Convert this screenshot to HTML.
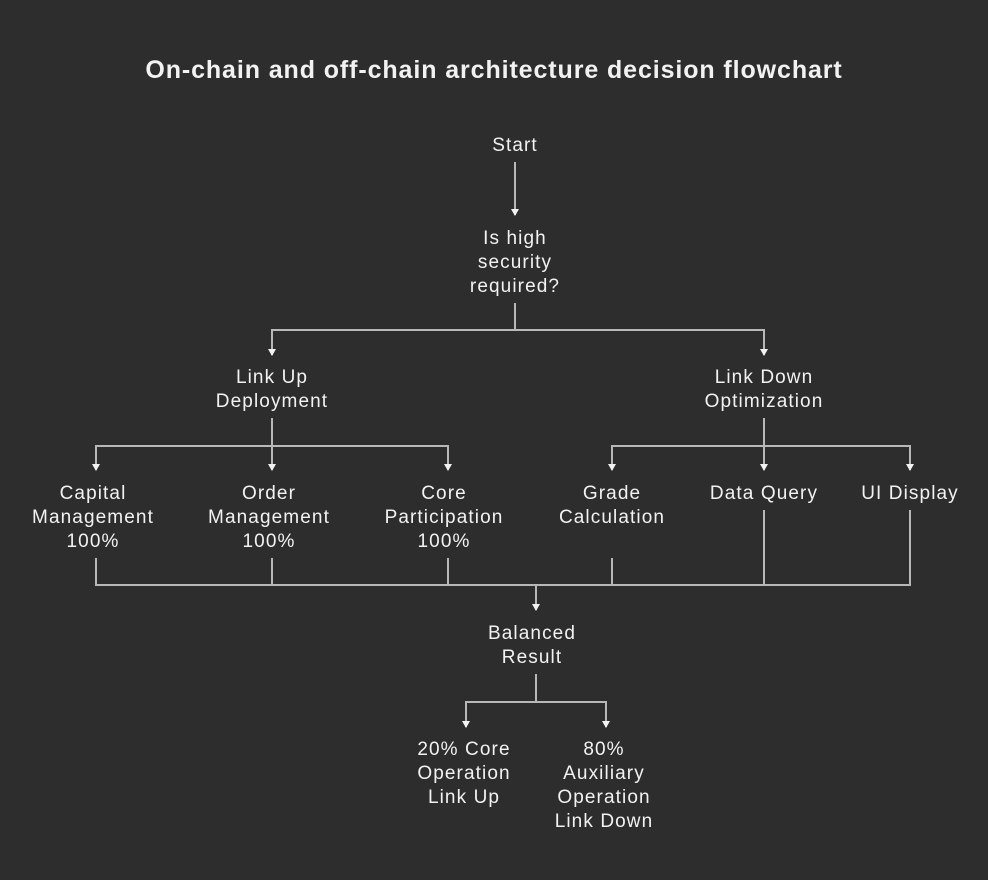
<!DOCTYPE html>
<html><head><meta charset="utf-8"><style>
html,body{margin:0;padding:0;background:#2d2d2d;}
svg{display:block}
text{font-family:"Liberation Sans",sans-serif;fill:#f2f2f2;font-size:19px;letter-spacing:1.1px;text-anchor:middle}
.t{font-size:25px;font-weight:bold;letter-spacing:0.9px}
line,polyline{stroke:#b8b8b8;stroke-width:2;fill:none}
</style></head><body>
<svg width="988" height="880" viewBox="0 0 988 880">
<rect width="988" height="880" fill="#2d2d2d"/>
<text class="t" x="494" y="78">On-chain and off-chain architecture decision flowchart</text>
<text x="515" y="151">Start</text>
<line x1="515" y1="162" x2="515" y2="215"/>
<path d="M511,209 L519,209 L515,216 z" fill="#f2f2f2"/>
<text x="515" y="244">Is high</text><text x="515" y="268">security</text><text x="515" y="292">required?</text>
<polyline points="515,303 515,330"/>
<polyline points="272,355 272,330 764,330 764,355"/>
<path d="M268,349 L276,349 L272,356 z M760,349 L768,349 L764,356 z" fill="#f2f2f2"/>
<text x="272" y="383">Link Up</text><text x="272" y="407">Deployment</text>
<text x="764" y="383">Link Down</text><text x="764" y="407">Optimization</text>
<line x1="272" y1="418" x2="272" y2="470"/>
<polyline points="96,470 96,446 448,446 448,470"/>
<line x1="764" y1="418" x2="764" y2="470"/>
<polyline points="612,470 612,446 910,446 910,470"/>
<path d="M92,464 L100,464 L96,471 z M268,464 L276,464 L272,471 z M444,464 L452,464 L448,471 z M608,464 L616,464 L612,471 z M760,464 L768,464 L764,471 z M906,464 L914,464 L910,471 z" fill="#f2f2f2"/>
<text x="93" y="499">Capital</text><text x="93" y="523">Management</text><text x="93" y="547">100%</text>
<text x="269" y="499">Order</text><text x="269" y="523">Management</text><text x="269" y="547">100%</text>
<text x="444" y="499">Core</text><text x="444" y="523">Participation</text><text x="444" y="547">100%</text>
<text x="612" y="499">Grade</text><text x="612" y="523">Calculation</text>
<text x="764" y="499">Data Query</text>
<text x="910" y="499">UI Display</text>
<line x1="96" y1="558" x2="96" y2="585"/>
<line x1="272" y1="558" x2="272" y2="585"/>
<line x1="448" y1="558" x2="448" y2="585"/>
<line x1="612" y1="558" x2="612" y2="585"/>
<line x1="764" y1="510" x2="764" y2="585"/>
<line x1="910" y1="510" x2="910" y2="585"/>
<line x1="95" y1="585" x2="911" y2="585"/>
<line x1="536" y1="585" x2="536" y2="610"/>
<path d="M532,604 L540,604 L536,611 z" fill="#f2f2f2"/>
<text x="532" y="639">Balanced</text><text x="532" y="663">Result</text>
<line x1="536" y1="674" x2="536" y2="702"/>
<polyline points="466,727 466,702 606,702 606,727"/>
<path d="M462,721 L470,721 L466,728 z M602,721 L610,721 L606,728 z" fill="#f2f2f2"/>
<text x="464" y="755">20% Core</text><text x="464" y="779">Operation</text><text x="464" y="803">Link Up</text>
<text x="604" y="755">80%</text><text x="604" y="779">Auxiliary</text><text x="604" y="803">Operation</text><text x="604" y="827">Link Down</text>
</svg>
</body></html>
